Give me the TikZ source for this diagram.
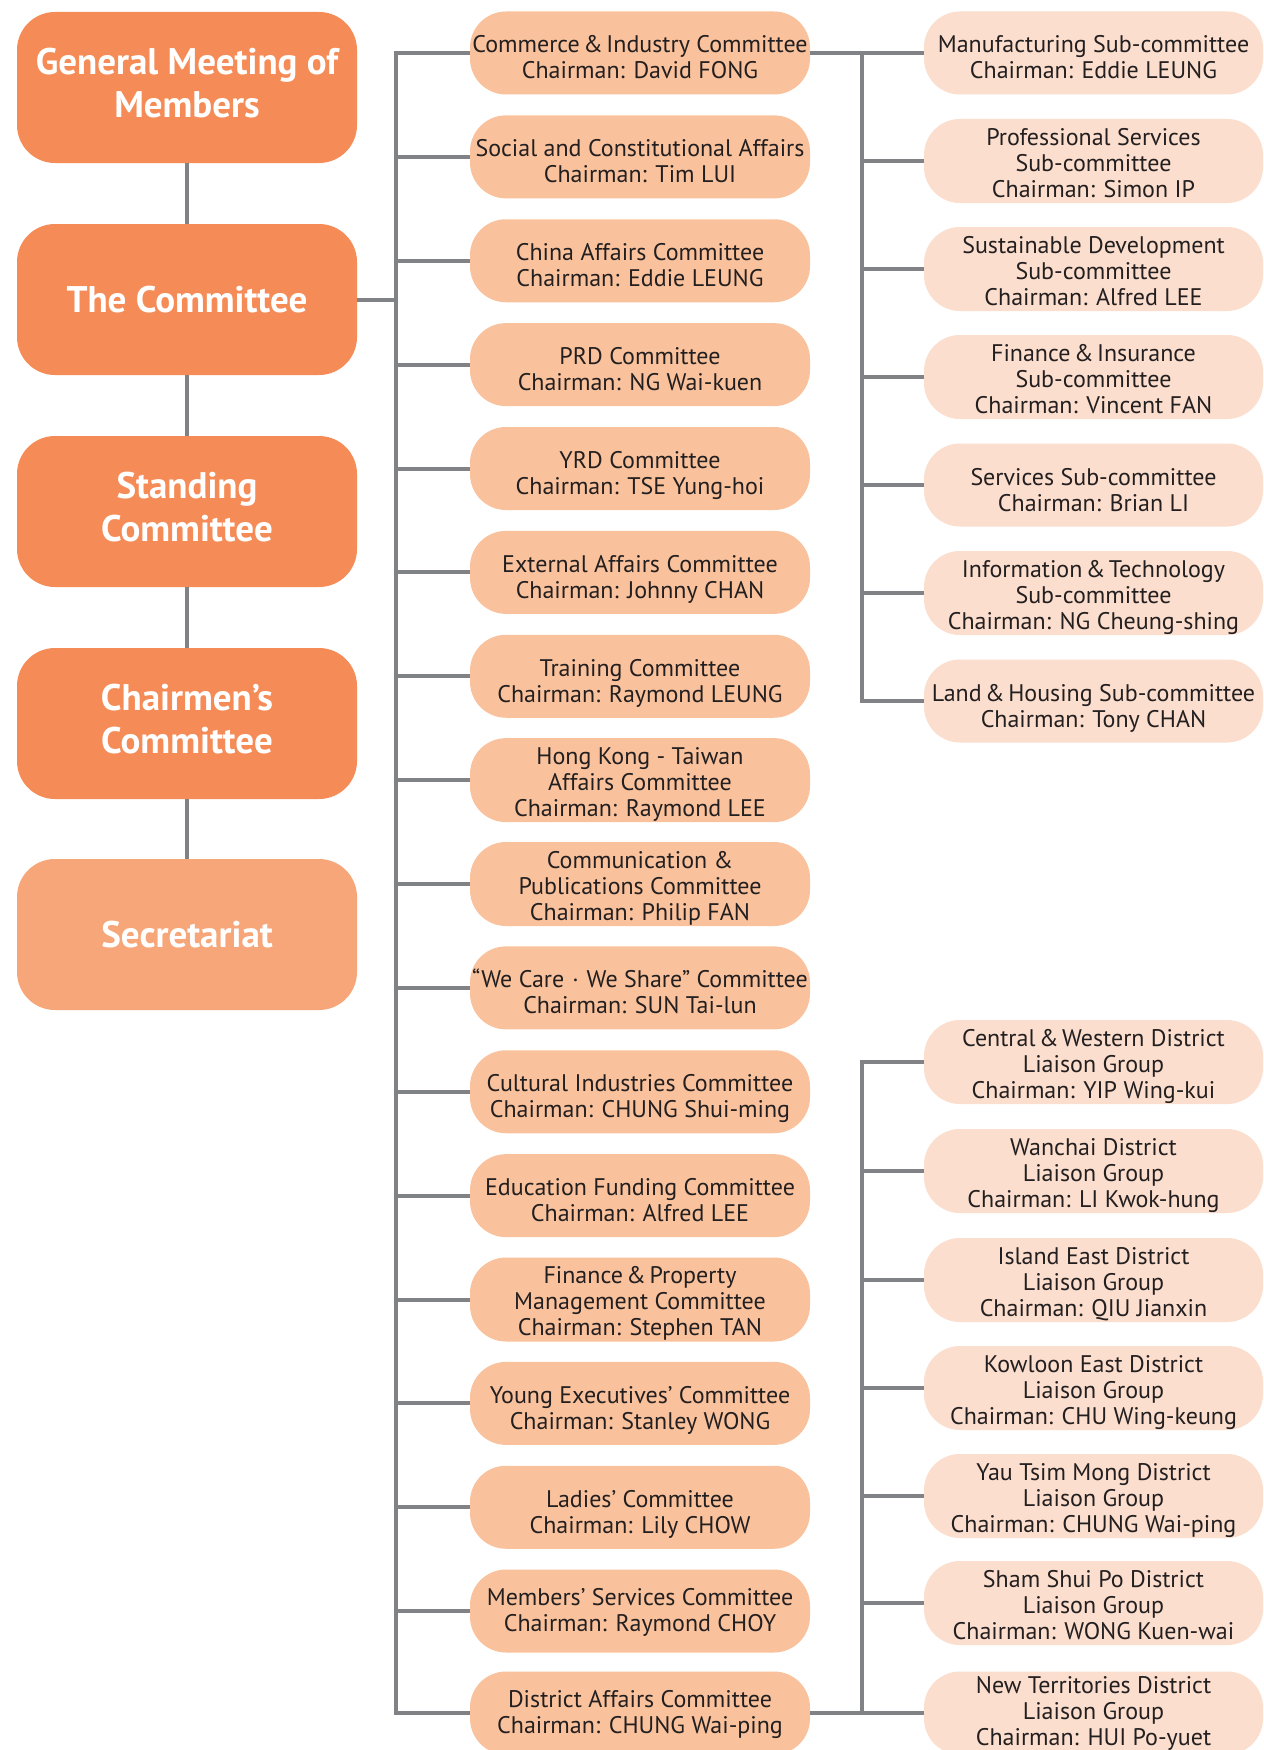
\documentclass[tikz,border=0pt]{standalone}
\usepackage{fontspec}
\setmainfont{PT Sans}
\definecolor{orangeA}{RGB}{245,139,86}
\definecolor{orangeB}{RGB}{246,166,120}
\definecolor{peach}{RGB}{249,194,156}
\definecolor{lpeach}{RGB}{251,222,205}
\definecolor{lineg}{RGB}{128,130,133}
\definecolor{txt}{RGB}{35,31,32}
\newcommand{\amp}{\hspace{3.5pt}\&\hspace{3.5pt}}
\newcommand{\bx}[1]{\rule{0pt}{26pt}#1\rule[-6pt]{0pt}{6pt}}
\newcommand{\bxb}[1]{\rule{0pt}{32pt}#1\rule[-6pt]{0pt}{6pt}}
\newcommand{\bxc}[1]{\rule{0pt}{20pt}#1\rule[-6pt]{0pt}{6pt}}
\begin{document}
\begin{tikzpicture}[x=1pt,y=-1pt,
  lbox/.style={rectangle, rounded corners=38pt, fill=orangeA, minimum width=340pt, minimum height=151pt, text=white, font=\fontsize{37}{43}\selectfont\bfseries, align=center, inner sep=0pt},
  lboxtwo/.style={lbox, execute at end node={\rule[-10pt]{0pt}{10pt}}},
  mbox/.style={rectangle, rounded corners=36pt, fill=peach, minimum width=340pt, minimum height=83pt, text=txt, font=\fontsize{24}{26}\selectfont, align=center, inner sep=0pt},
  rbox/.style={mbox, fill=lpeach, minimum width=339pt},
  conn/.style={draw=lineg, line width=4pt, line join=miter}]
\clip (0,0) rectangle (1263,1750);
\fill[white] (0,0) rectangle (1263,1750);
\coordinate (bx) at (396,0);
\coordinate (rx) at (862,0);
% left column
\node[lboxtwo] (gm) at (187,87.5) {General Meeting of\\Members};
\node[lbox] (com) at (187,299.5) {The Committee};
\node[lboxtwo] (stc) at (187,511.5) {Standing\\Committee};
\node[lboxtwo] (chc) at (187,723.5) {Chairmen’s\\Committee};
\node[lbox, fill=orangeB] (sec) at (187,934.5) {Secretariat};
% middle column
\node[mbox] (m1) at (640,53) {\bxb{Commerce\amp Industry Committee\\Chairman: David FONG}};
\node[mbox] (m2) at (640,156.875) {\bxb{Social and Constitutional Affairs\\Chairman: Tim LUI}};
\node[mbox] (m3) at (640,260.75) {\bxb{China Affairs Committee\\Chairman: Eddie LEUNG}};
\node[mbox] (m4) at (640,364.625) {\bxb{PRD Committee\\Chairman: NG Wai-kuen}};
\node[mbox] (m5) at (640,468.5) {\bxb{YRD Committee\\Chairman: TSE Yung-hoi}};
\node[mbox] (m6) at (640,572.375) {\bxb{External Affairs Committee\\Chairman: Johnny CHAN}};
\node[mbox] (m7) at (640,676.25) {\bxb{Training Committee\\Chairman: Raymond LEUNG}};
\node[mbox] (m8) at (640,780.125) {\bx{Hong Kong - Taiwan\\Affairs Committee\\Chairman: Raymond LEE}};
\node[mbox] (m9) at (640,884) {\bx{Communication \&\\Publications Committee\\Chairman: Philip FAN}};
\node[mbox] (m10) at (640,987.875) {\bxb{“We Care\hspace{8pt}·\hspace{8pt}We Share” Committee\\Chairman: SUN Tai-lun}};
\node[mbox] (m11) at (640,1091.75) {\bxb{Cultural Industries Committee\\Chairman: CHUNG Shui-ming}};
\node[mbox] (m12) at (640,1195.625) {\bxb{Education Funding Committee\\Chairman: Alfred LEE}};
\node[mbox] (m13) at (640,1299.5) {\bx{Finance\amp Property\\Management Committee\\Chairman: Stephen TAN}};
\node[mbox] (m14) at (640,1403.375) {\bxb{Young Executives’ Committee\\Chairman: Stanley WONG}};
\node[mbox] (m15) at (640,1507.25) {\bxb{Ladies’ Committee\\Chairman: Lily CHOW}};
\node[mbox] (m16) at (640,1611) {\bxc{Members’ Services Committee\\Chairman: Raymond CHOY}};
\node[mbox] (m17) at (640,1713) {\bxc{District Affairs Committee\\Chairman: CHUNG Wai-ping}};
% right upper
\node[rbox] (r1) at (1093.5,53) {\bxb{Manufacturing Sub-committee\\Chairman: Eddie LEUNG}};
\node[rbox] (r2) at (1093.5,161) {\bx{Professional Services\\Sub-committee\\Chairman: Simon IP}};
\node[rbox] (r3) at (1093.5,269) {\bx{Sustainable Development\\Sub-committee\\Chairman: Alfred LEE}};
\node[rbox] (r4) at (1093.5,377) {\bx{Finance\amp Insurance\\Sub-committee\\Chairman: Vincent FAN}};
\node[rbox] (r5) at (1093.5,485) {\bxb{Services Sub-committee\\Chairman: Brian LI}};
\node[rbox] (r6) at (1093.5,593) {\bx{Information\amp Technology\\Sub-committee\\Chairman: NG Cheung-shing}};
\node[rbox] (r7) at (1093.5,701) {\bxb{Land\amp Housing Sub-committee\\Chairman: Tony CHAN}};
% right lower
\node[rbox] (d1) at (1093.5,1062) {\bx{Central\amp Western District\\Liaison Group\\Chairman: YIP Wing-kui}};
\node[rbox] (d2) at (1093.5,1171) {\bx{Wanchai District\\Liaison Group\\Chairman: LI Kwok-hung}};
\node[rbox] (d3) at (1093.5,1280) {\bx{Island East District\\Liaison Group\\Chairman: QIU Jianxin}};
\node[rbox] (d4) at (1093.5,1388) {\bx{Kowloon East District\\Liaison Group\\Chairman: CHU Wing-keung}};
\node[rbox] (d5) at (1093.5,1496) {\bx{Yau Tsim Mong District\\Liaison Group\\Chairman: CHUNG Wai-ping}};
\node[rbox] (d6) at (1093.5,1603) {\bx{Sham Shui Po District\\Liaison Group\\Chairman: WONG Kuen-wai}};
\node[rbox] (d7) at (1093.5,1713) {New Territories District\\Liaison Group\\Chairman: HUI Po-yuet};
% connectors
\draw[conn] (gm.south) -- (com.north);
\draw[conn] (com.south) -- (stc.north);
\draw[conn] (stc.south) -- (chc.north);
\draw[conn] (chc.south) -- (sec.north);
\draw[conn] (com.east) -- (com.east -| bx);
\draw[conn] (m1.west) -- (m1.west -| bx) -- (m17.west -| bx) -- (m17.west);
\foreach \i in {2,...,16} \draw[conn] (m\i.west -| bx) -- (m\i.west);
\draw[conn] (m1.east) -- (r1.west);
\draw[conn] (r1.west -| rx) -- (r7.west -| rx) -- (r7.west);
\foreach \i in {2,...,6} \draw[conn] (r\i.west -| rx) -- (r\i.west);
\draw[conn] (m17.east) -- (d7.west);
\draw[conn] (d1.west) -- (d1.west -| rx) -- (d7.west -| rx);
\foreach \i in {2,...,6} \draw[conn] (d\i.west -| rx) -- (d\i.west);
\end{tikzpicture}
\end{document}
